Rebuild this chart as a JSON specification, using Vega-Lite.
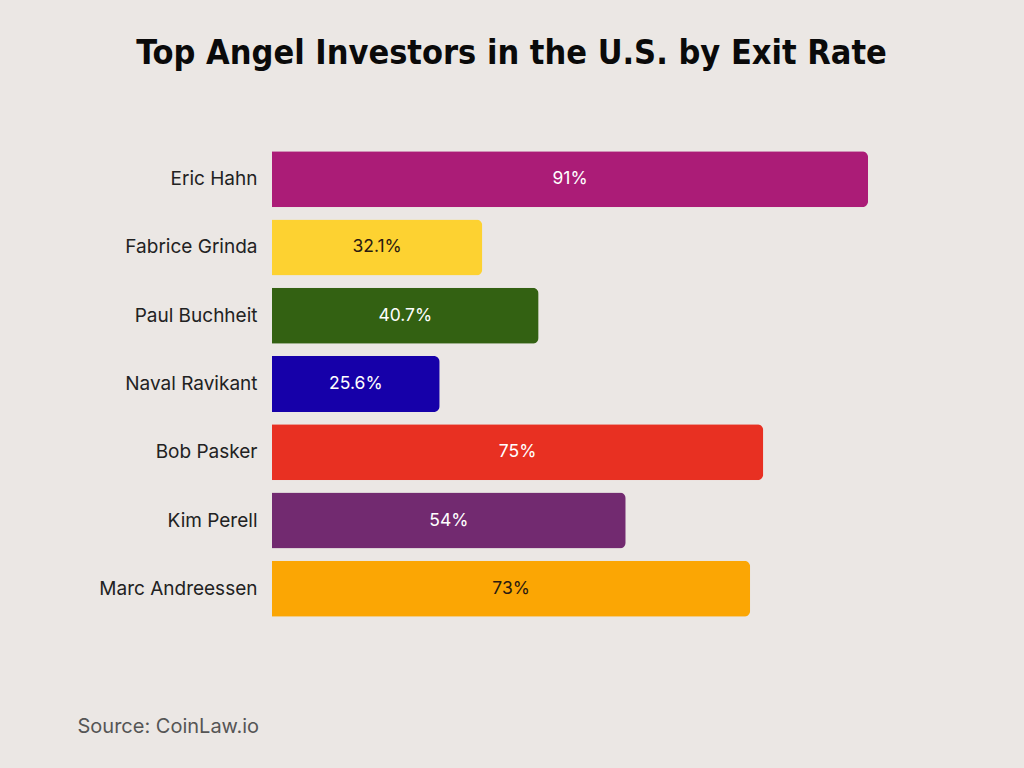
{
  "$schema": "https://vega.github.io/schema/vega-lite/v6.json",
  "width": 655,
  "height": 478,
  "autosize": {"type": "none"},
  "padding": {"left": 272, "top": 145, "right": 97, "bottom": 145},
  "background": "#ebe7e4",
  "config": {"view": {"stroke": null}},
  "title": {
    "text": "Top Angel Investors in the U.S. by Exit Rate",
    "font": "DejaVu Sans Condensed, DejaVu Sans",
    "fontWeight": "bold",
    "fontSize": 34,
    "color": "#0a0a0a",
    "anchor": "middle",
    "dx": -88,
    "offset": 74
  },
  "data": {
    "values": [
      {"name": "Eric Hahn", "value": 91, "label": "91%"},
      {"name": "Fabrice Grinda", "value": 32.1, "label": "32.1%"},
      {"name": "Paul Buchheit", "value": 40.7, "label": "40.7%"},
      {"name": "Naval Ravikant", "value": 25.6, "label": "25.6%"},
      {"name": "Bob Pasker", "value": 75, "label": "75%"},
      {"name": "Kim Perell", "value": 54, "label": "54%"},
      {"name": "Marc Andreessen", "value": 73, "label": "73%"}
    ]
  },
  "encoding": {
    "y": {
      "field": "name",
      "type": "nominal",
      "sort": null,
      "scale": {"paddingInner": 0.18, "paddingOuter": 0.09},
      "axis": {
        "title": null,
        "ticks": false,
        "domain": false,
        "labelFont": "Inter",
        "labelFontSize": 19,
        "labelColor": "#222222",
        "labelPadding": 15
      }
    }
  },
  "layer": [
    {
      "mark": {"type": "bar", "cornerRadiusEnd": 6},
      "encoding": {
        "x": {
          "field": "value",
          "type": "quantitative",
          "scale": {"domain": [0, 100]},
          "axis": {
            "title": "Source: CoinLaw.io",
            "labels": false,
            "ticks": false,
            "domain": false,
            "grid": false,
            "titleFont": "Inter",
            "titleFontSize": 20,
            "titleFontWeight": "normal",
            "titleColor": "#555555",
            "titleAlign": "left",
            "titleAnchor": "start",
            "titleBaseline": "alphabetic",
            "titleX": -195,
            "titleY": 109
          }
        },
        "color": {
          "field": "name",
          "type": "nominal",
          "legend": null,
          "scale": {
            "domain": ["Eric Hahn", "Fabrice Grinda", "Paul Buchheit", "Naval Ravikant", "Bob Pasker", "Kim Perell", "Marc Andreessen"],
            "range": ["#ab1c77", "#fdd231", "#336112", "#1600a9", "#e83022", "#722a70", "#fba604"]
          }
        }
      }
    },
    {
      "transform": [{"calculate": "datum.value / 2", "as": "mid"}],
      "mark": {"type": "text", "font": "Inter", "fontSize": 17.5, "align": "center", "baseline": "middle"},
      "encoding": {
        "x": {"field": "mid", "type": "quantitative"},
        "text": {"field": "label"},
        "color": {
          "condition": {"test": "datum.name === 'Fabrice Grinda' || datum.name === 'Marc Andreessen'", "value": "#2a1a10"},
          "value": "#ffffff"
        }
      }
    }
  ]
}
